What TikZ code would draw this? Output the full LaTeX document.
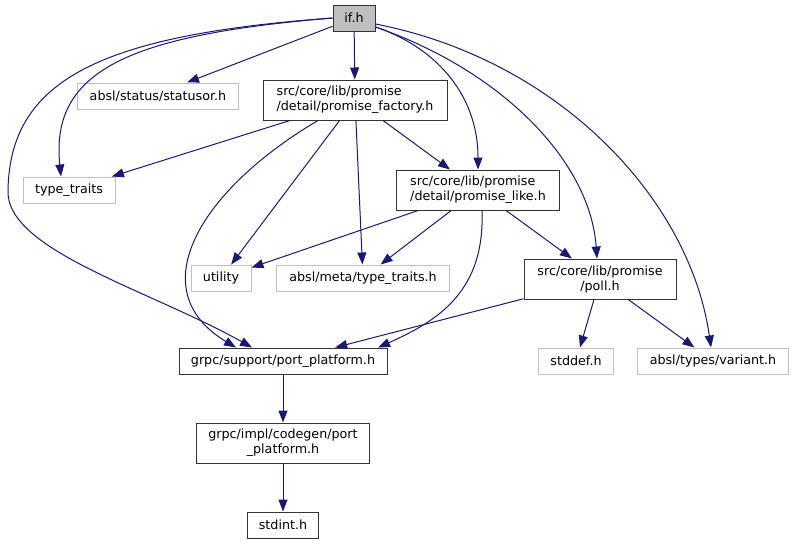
\documentclass[tikz,border=0pt]{standalone}
\usepackage{fontspec}
\setmainfont{DejaVu Sans}
\usetikzlibrary{arrows.meta}
\definecolor{edgeblue}{HTML}{191970}
\definecolor{leafgray}{HTML}{BFBFBF}

\begin{document}
\begin{tikzpicture}[x=1pt,y=-1pt,
    font=\fontsize{12.7}{15}\selectfont,
    file/.style={draw=black!80, line width=1pt, inner xsep=2pt, inner ysep=4pt, minimum height=26pt},
    twoline/.style={file, minimum height=40pt},
    leaf/.style={file, draw=leafgray},
    root/.style={file, fill=leafgray},
    dep/.style={draw=edgeblue, line width=1pt, -{Triangle[length=12pt,width=9pt]}}]
  \useasboundingbox (0,0) rectangle (794,544);
  \node[root, minimum width=42pt] (ifh) at (354,18) {if.h};
  \node[leaf, minimum width=161pt] (statusor) at (158,96) {absl/status/statusor.h};
  \node[twoline, minimum width=184pt, align=left] (factory) at (355,100) {src/core/lib/promise\\/detail/promise\_factory.h};
  \node[leaf, minimum width=92pt] (typetraits) at (69,190) {type\_traits};
  \node[twoline, minimum width=163pt, align=left] (like) at (478,190) {src/core/lib/promise\\/detail/promise\_like.h};
  \node[leaf, minimum width=60pt] (utility) at (221,278) {utility};
  \node[leaf, minimum width=173pt] (metatraits) at (363,278) {absl/meta/type\_traits.h};
  \node[twoline, minimum width=152pt, align=center] (poll) at (600,279) {src/core/lib/promise\\/poll.h};
  \node[file, minimum width=208pt] (port) at (283,361) {grpc/support/port\_platform.h};
  \node[leaf, minimum width=75pt] (stddef) at (576,361) {stddef.h};
  \node[leaf, minimum width=151pt] (variant) at (713,361) {absl/types/variant.h};
  \node[twoline, minimum width=173pt, align=center] (codegen) at (283,443) {grpc/impl/codegen/port\\\_platform.h};
  \node[file, minimum width=71pt] (stdint) at (283,525) {stdint.h};

  \draw[dep] (ifh) -- ([xshift=29pt]statusor.north);
  \draw[dep] (ifh) -- (factory);
  \draw[dep] (ifh.west) .. controls (130,35) and (50,70) .. ([xshift=-8pt]typetraits.north);
  \draw[dep] (ifh.west) .. controls (100,35) and (10,80) .. (8,190) .. controls (5,250) and (150,290) .. ([xshift=-31pt]port.north);
  \draw[dep] ([yshift=-9pt]ifh.east) .. controls (430,45) and (478,90) .. (like.north);
  \draw[dep] ([yshift=-9pt]ifh.east) .. controls (500,70) and (590,160) .. ([xshift=-3pt]poll.north);
  \draw[dep] ([yshift=-6pt]ifh.east) .. controls (560,60) and (690,200) .. ([xshift=-2pt]variant.north);
  \draw[dep] (factory) -- (typetraits);
  \draw[dep] (factory) -- (utility);
  \draw[dep] (factory) -- (metatraits);
  \draw[dep] (factory) -- (like);
  \draw[dep] ([xshift=-37pt]factory.south) .. controls (200,190) and (140,290) .. ([xshift=-47pt]port.north);
  \draw[dep] (like) -- (utility);
  \draw[dep] (like) -- (metatraits);
  \draw[dep] (like) -- (poll);
  \draw[dep] ([xshift=4pt]like.south) .. controls (485,290) and (440,320) .. ([xshift=95pt]port.north);
  \draw[dep] (poll) -- (port);
  \draw[dep] (poll) -- (stddef);
  \draw[dep] (poll) -- (variant);
  \draw[dep] (port) -- (codegen);
  \draw[dep] (codegen) -- (stdint);
\end{tikzpicture}
\end{document}
